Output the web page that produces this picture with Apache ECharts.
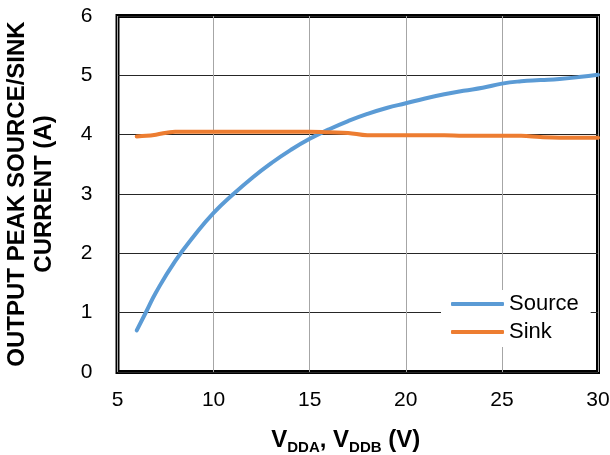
<!DOCTYPE html>
<html>
<head>
<meta charset="utf-8">
<script src="https://cdn.jsdelivr.net/npm/echarts@6/dist/echarts.min.js"></script>
<style>
html,body{margin:0;padding:0;background:#fff;}
#chart{width:610px;height:455px;}
</style>
</head>
<body>
<div id="chart"></div>
<script>
const voltages = [6,6.5,7,8,9,10,11,12,13,14,15,16,17,18,19,20,21,22,23,24,25,26,27,28,29,30];
const sourceCurrent = [0.70,1.02,1.34,1.87,2.30,2.68,2.99,3.27,3.52,3.74,3.93,4.09,4.23,4.35,4.45,4.53,4.61,4.68,4.74,4.79,4.86,4.90,4.92,4.94,4.97,5.01];
const sinkCurrent = [3.97,3.98,4.00,4.05,4.05,4.05,4.05,4.05,4.05,4.05,4.05,4.04,4.03,3.99,3.99,3.99,3.99,3.99,3.98,3.98,3.98,3.98,3.96,3.95,3.95,3.95];
const xTicks = [5,10,15,20,25,30];
const yTicks = [0,1,2,3,4,5,6];
const seriesNames = ['Source','Sink'];

const pairs = (ys) => voltages.map((v,i) => [v, ys[i]]);
const FONT = '"Liberation Sans", Arial, sans-serif';

const chart = echarts.init(document.getElementById('chart'));
chart.setOption({
  animation: false,
  textStyle: {fontFamily: FONT},
  grid: {left: 117.5, right: 12, top: 16, bottom: 83, show: true, borderColor: '#000', borderWidth: 4,
         backgroundColor: 'transparent', containLabel: false, outerBoundsMode: 'none'},
  xAxis: {
    type: 'value', min: xTicks[0], max: xTicks[xTicks.length-1], interval: 5,
    axisLine: {show: false}, axisTick: {show: false},
    axisLabel: {color: '#000', fontSize: 21, fontFamily: FONT, margin: 18},
    splitLine: {show: true, lineStyle: {color: '#a6a6a6', width: 1}},
    name: '{v|V}{s|DDA}{v|, V}{s|DDB}{v| (V)}',
    nameLocation: 'middle', nameGap: 54,
    nameTextStyle: {
      padding: [0, 24, 0, 0],
      rich: {
        v: {fontSize: 24, fontWeight: 'bold', color: '#000', fontFamily: FONT, verticalAlign: 'bottom', lineHeight: 26},
        s: {fontSize: 15, fontWeight: 'bold', color: '#000', fontFamily: FONT, verticalAlign: 'bottom', lineHeight: 20, padding: [0,0,-3,0]}
      }
    }
  },
  yAxis: {
    type: 'value', min: yTicks[0], max: yTicks[yTicks.length-1], interval: 1,
    axisLine: {show: false}, axisTick: {show: false},
    axisLabel: {color: '#000', fontSize: 21, fontFamily: FONT, margin: 25},
    splitLine: {show: true, lineStyle: {color: '#262626', width: 1}},
    name: 'OUTPUT PEAK SOURCE/SINK\nCURRENT (A)',
    nameLocation: 'middle', nameRotate: 90, nameGap: 60,
    nameTextStyle: {fontSize: 24, fontWeight: 'bold', color: '#000', fontFamily: FONT, lineHeight: 27}
  },
  legend: {
    orient: 'vertical', left: 441, top: 290,
    backgroundColor: '#fff',
    padding: [3, 12, 4, 10],
    icon: 'roundRect',
    itemWidth: 53, itemHeight: 4, itemGap: 6,
    textStyle: {fontSize: 22, color: '#000', fontFamily: FONT, lineHeight: 22},
    data: seriesNames
  },
  series: [
    {name: seriesNames[0], type: 'line', data: pairs(sourceCurrent), smooth: 0.5, symbol: 'none',
     lineStyle: {color: '#5B9BD5', width: 4, cap: 'round'}, itemStyle: {color: '#5B9BD5'}},
    {name: seriesNames[1], type: 'line', data: pairs(sinkCurrent), smooth: 0.4, symbol: 'none',
     lineStyle: {color: '#ED7D31', width: 4, cap: 'round'}, itemStyle: {color: '#ED7D31'}}
  ]
});
</script>
</body>
</html>
